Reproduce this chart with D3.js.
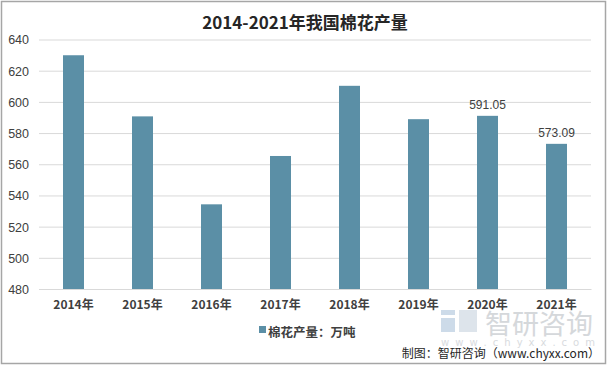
<!DOCTYPE html>
<html><head><meta charset="utf-8">
<script src="https://cdn.jsdelivr.net/npm/d3@7/dist/d3.min.js"></script>
<style>
body{margin:0;background:#fff;}
svg{display:block;}
</style></head>
<body>
<svg id="c" width="609" height="367"></svg>
<script>
const categories = ["2014年","2015年","2016年","2017年","2018年","2019年","2020年","2021年"];
const values = [629.9, 590.7, 534.3, 565.3, 610.3, 588.9, 591.05, 573.09];
const labelled = ["2020年","2021年"];
const yTicks = [480,500,520,540,560,580,600,620,640];
const title = "2014-2021年我国棉花产量";
const seriesName = "棉花产量：万吨";
const source = "制图：智研咨询（www.chyxx.com）";

const svg = d3.select("#c");
const W = 609, H = 367;
const m = {left:39, right:591, top:39.5, bottom:289};
const narrow = "'Liberation Sans Narrow','Liberation Sans',Arial,sans-serif";
const cjk = "'Noto Sans CJK SC','Liberation Sans Narrow',sans-serif";

svg.append("rect").attr("x",1.5).attr("y",1.5).attr("width",W-5).attr("height",H-5)
  .attr("fill","#fff").attr("stroke","#a6a6a6").attr("stroke-width",1.5);

const x = d3.scaleBand().domain(categories).range([m.left,m.right]).paddingInner(48/69).paddingOuter(24/69);
const y = d3.scaleLinear().domain([480,640]).range([m.bottom,m.top]);

// watermark
const wm = svg.append("g").attr("opacity",0.7);
wm.append("rect").attr("x",441).attr("y",310).attr("width",14).attr("height",5).attr("fill","#b9cde0");
wm.append("rect").attr("x",441).attr("y",318).attr("width",14).attr("height",14).attr("fill","#b9cde0");
wm.append("rect").attr("x",459).attr("y",310).attr("width",18).attr("height",22).attr("fill","#cfd9e3");
wm.append("text").attr("x",485).attr("y",334).attr("font-family","'Noto Sans CJK SC',sans-serif")
  .attr("font-size",27).attr("fill","#c4c8cd").text("智研咨询");
wm.append("text").attr("x",441).attr("y",346).attr("font-family","'DejaVu Sans',sans-serif")
  .attr("font-size",10).attr("fill","#c9cdd2").attr("textLength",154).text("w w w . c h y x x . c o m");

// gridlines
const yAxis = d3.axisLeft(y).tickValues(yTicks).tickSize(-(m.right-m.left)).tickPadding(10);
const gy = svg.append("g").attr("transform",`translate(${m.left},0)`).call(yAxis);
gy.select(".domain").remove();
gy.selectAll(".tick line").attr("stroke","#d9d9d9").attr("stroke-width",1);
gy.selectAll(".tick text").attr("font-family",narrow).attr("font-size",12.5).attr("fill","#404040").attr("x",-10).attr("dy","0.35em");

// bars
svg.append("g").selectAll("rect").data(categories).join("rect")
  .attr("x",d=>x(d)).attr("width",x.bandwidth())
  .attr("y",(d,i)=>y(values[i])).attr("height",(d,i)=>y(480)-y(values[i]))
  .attr("fill","#5b8fa6");

// data labels
svg.append("g").selectAll("text").data(categories.filter(c=>labelled.includes(c))).join("text")
  .attr("x",d=>x(d)+x.bandwidth()/2).attr("y",d=>y(values[categories.indexOf(d)])-7)
  .attr("text-anchor","middle").attr("font-family",narrow).attr("font-size",12).attr("fill","#404040")
  .text(d=>values[categories.indexOf(d)].toFixed(2));

// x axis
const xAxis = d3.axisBottom(x).tickSize(0).tickPadding(11);
const gx = svg.append("g").attr("transform",`translate(0,${m.bottom})`).call(xAxis);
gx.select(".domain").attr("stroke","#d9d9d9");
gx.selectAll(".tick text").attr("font-family",cjk).attr("font-size",12).attr("font-weight","bold").attr("fill","#404040");

// title
svg.append("text").attr("x",305).attr("y",29).attr("text-anchor","middle")
  .attr("font-family",cjk).attr("font-size",17).attr("font-weight","bold").attr("fill","#262626").text(title);

// legend
svg.append("rect").attr("x",259).attr("y",326).attr("width",7).attr("height",7).attr("fill","#5b8fa6");
svg.append("text").attr("x",268).attr("y",337).attr("font-family",cjk).attr("font-size",12.5)
  .attr("font-weight","bold").attr("fill","#404040").text(seriesName);

// source
svg.append("text").attr("x",600).attr("y",358).attr("text-anchor","end").attr("font-family",cjk)
  .attr("font-size",12).attr("fill","#262626").text(source);
</script>
</body></html>
